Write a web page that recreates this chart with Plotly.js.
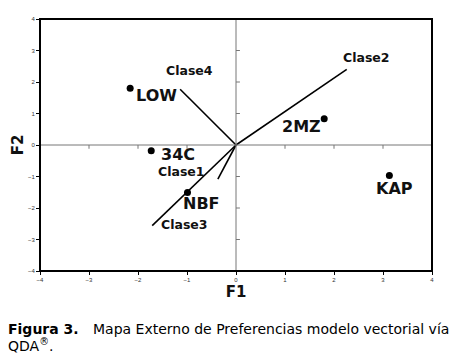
<!DOCTYPE html>
<html><head><meta charset="utf-8">
<script src="https://cdn.plot.ly/plotly-3.0.1.min.js"></script>
<style>html,body{margin:0;padding:0;background:#fff}#chart{width:451px;height:355px}</style>
</head><body><div id="chart"></div>
<script>
// Points (products)
const pointNames = ["LOW", "2MZ", "34C", "NBF", "KAP"];
const pointX = [-2.16, 1.80, -1.73, -0.99, 3.13];
const pointY = [1.80, 0.83, -0.18, -1.51, -0.97];
const pointLabelX = [-1.62, 1.34, -1.18, -0.71, 3.24];
const pointLabelY = [1.57, 0.60, -0.31, -1.87, -1.37];
// Vectors (classes)
const vecNames = ["Clase1", "Clase2", "Clase3", "Clase4"];
const vecX = [-0.37, 2.26, -1.71, -1.14];
const vecY = [-1.08, 2.40, -2.56, 1.77];
const vecLabelX = [-1.11, 2.67, -1.06, -0.94];
const vecLabelY = [-0.83, 2.78, -2.52, 2.35];
// Axis ticks
const tickVals = [-4, -3, -2, -1, 0, 1, 2, 3, 4];
const innerTicks = [-3, -2, -1, 1, 2, 3];

const traces = [];
vecNames.forEach((n, i) => {
  traces.push({x: [0, vecX[i]], y: [0, vecY[i]], mode: 'lines', type: 'scatter',
    line: {color: '#000', width: 1.6}, hoverinfo: 'skip', showlegend: false});
});
traces.push({x: pointX, y: pointY, mode: 'markers', type: 'scatter',
  marker: {color: '#000', size: 7}, showlegend: false});

const annotations = [];
pointNames.forEach((n, i) => annotations.push({x: pointLabelX[i], y: pointLabelY[i], text: '<b>' + n + '</b>',
  showarrow: false, borderpad: 0, font: {family: 'DejaVu Sans', size: 16, color: '#111'}}));
vecNames.forEach((n, i) => annotations.push({x: vecLabelX[i], y: vecLabelY[i], text: '<b>' + n + '</b>',
  showarrow: false, borderpad: 0, font: {family: 'DejaVu Sans', size: 12.5, color: '#111'}}));
// caption
annotations.push({xref: 'paper', yref: 'paper', x: -34/392, y: (355-84-329)/252, xanchor: 'left', yanchor: 'middle',
  text: '<b>Figura 3.</b>', showarrow: false, font: {family: 'DejaVu Sans', size: 14, color: '#000'}});
annotations.push({xref: 'paper', yref: 'paper', x: (451-40)/392, y: (355-84-329)/252, xanchor: 'right', yanchor: 'middle',
  text: 'Mapa Externo de Preferencias modelo vectorial vía', showarrow: false, font: {family: 'DejaVu Sans', size: 14, color: '#000'}});
annotations.push({xref: 'paper', yref: 'paper', x: -34/392, y: (355-84-345)/252, xanchor: 'left', yanchor: 'middle',
  text: 'QDA<sup>®</sup>.', showarrow: false, font: {family: 'DejaVu Sans', size: 14, color: '#000'}});

const shapes = [
  {type: 'line', x0: 0, x1: 0, y0: -4, y1: 4, line: {color: '#777', width: 1}},
  {type: 'line', x0: -4, x1: 4, y0: 0, y1: 0, line: {color: '#777', width: 1}},
  {type: 'rect', xref: 'paper', yref: 'paper', x0: 0, x1: 1, y0: 0, y1: 1, line: {color: '#000', width: 2}}
];
innerTicks.forEach(t => {
  shapes.push({type: 'line', x0: 0, x1: 0.08, y0: t, y1: t, line: {color: '#777', width: 1}});
  shapes.push({type: 'line', x0: t, x1: t, y0: 0, y1: -0.12, line: {color: '#777', width: 1}});
});

const layout = {
  width: 451, height: 355,
  margin: {l: 40, r: 19, t: 19, b: 84},
  paper_bgcolor: '#fff', plot_bgcolor: '#fff',
  xaxis: {range: [-4, 4], tickvals: tickVals, showgrid: false, zeroline: false,
    ticks: 'outside', ticklen: 3, tickcolor: '#000', tickfont: {size: 6, color: '#333', family: 'Liberation Sans, Arial'},
    title: {text: '<b>F1</b>', font: {size: 15, family: 'DejaVu Sans', color: '#111'}, standoff: 2},
    showline: false, fixedrange: true},
  yaxis: {range: [-4, 4], tickvals: tickVals, showgrid: false, zeroline: false,
    ticks: 'outside', ticklen: 3, tickcolor: '#000', tickfont: {size: 6, color: '#333', family: 'Liberation Sans, Arial'},
    title: {text: '<b>F2</b>', font: {size: 15, family: 'DejaVu Sans', color: '#111'}, standoff: 0},
    showline: false, fixedrange: true},
  annotations: annotations, shapes: shapes, showlegend: false
};
Plotly.newPlot('chart', traces, layout, {displayModeBar: false, staticPlot: true});
</script></body></html>
